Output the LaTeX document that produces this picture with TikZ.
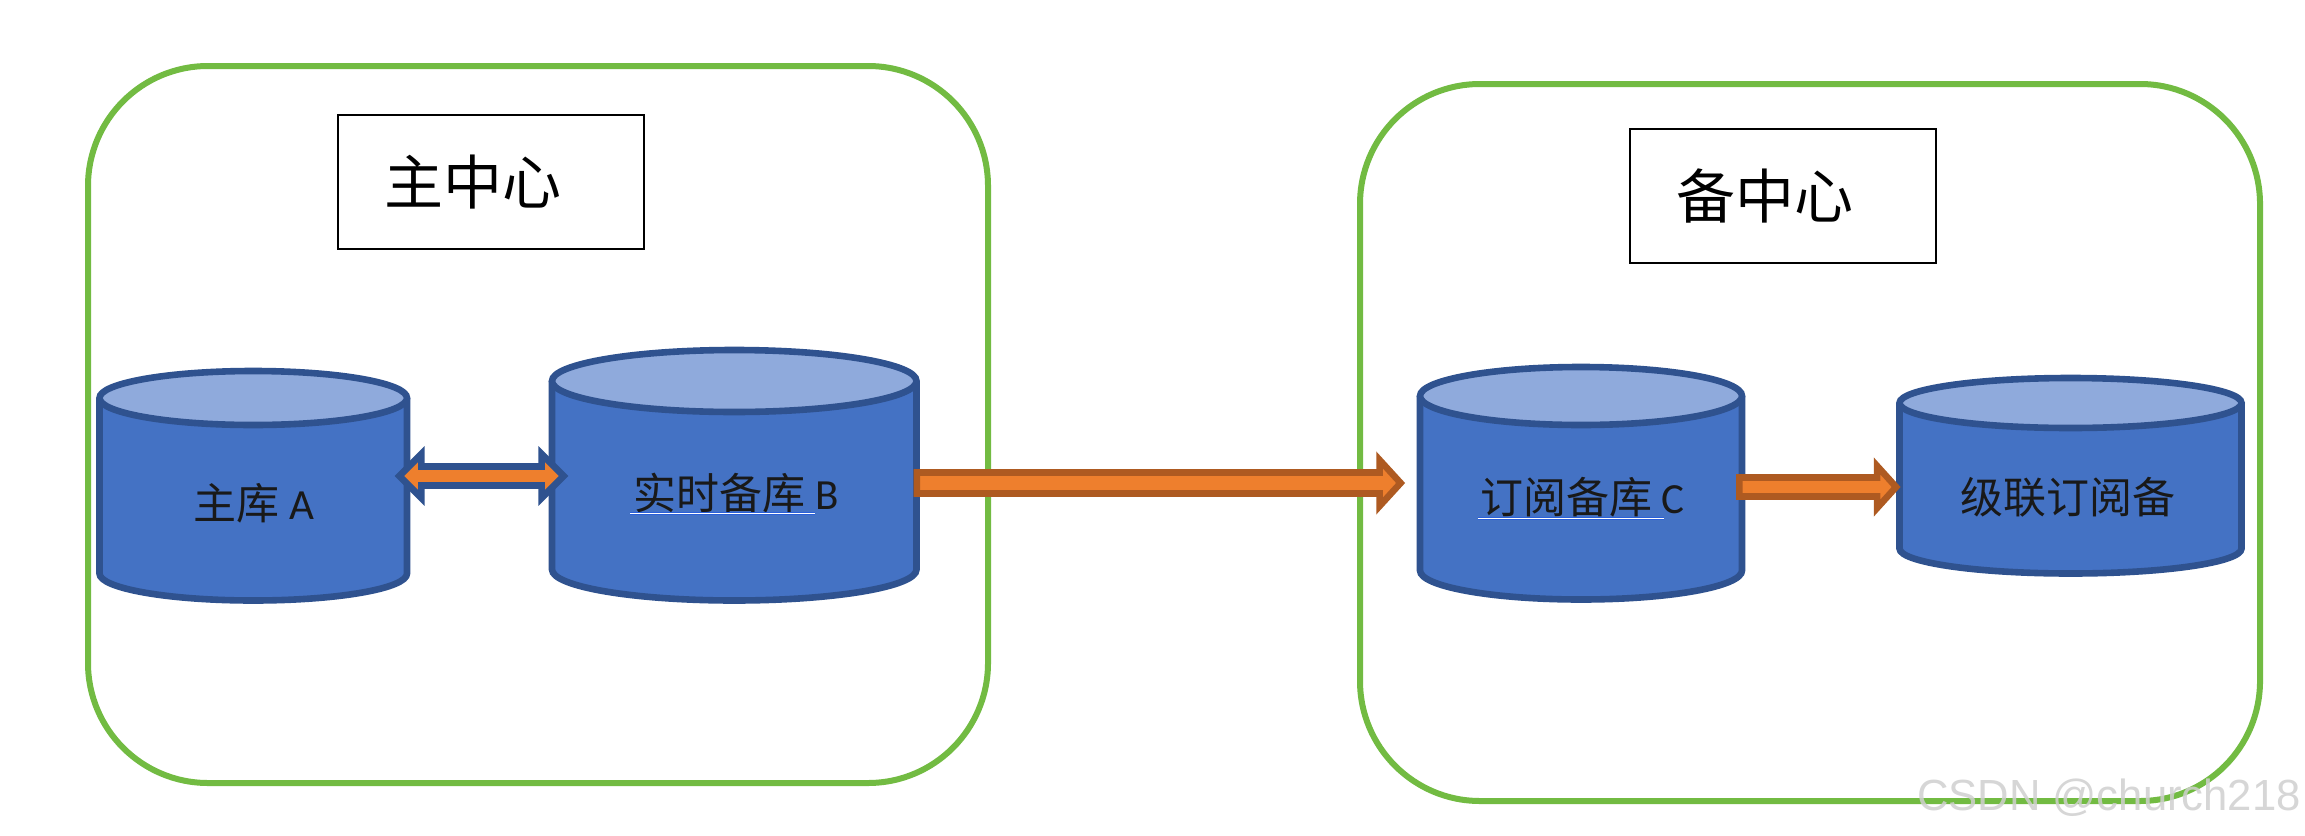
\documentclass[tikz,border=0pt]{standalone}
\usepackage{fontspec}
\usetikzlibrary{calc}
\setmainfont{Carlito}
\newfontfamily\cjk{Noto Sans CJK SC}
\newfontfamily\wm{Liberation Sans}
\definecolor{gframe}{HTML}{72BB42}
\definecolor{dbfill}{HTML}{4472C4}
\definecolor{dbedge}{HTML}{2F528F}
\definecolor{dbtop}{HTML}{8FAADC}
\definecolor{orfill}{HTML}{EE7F2D}
\definecolor{oredge}{HTML}{AE5A21}
\definecolor{ulblue}{HTML}{2A5FD8}
\tikzset{
  center box/.style={draw=gframe,line width=3pt,rounded corners=60pt,inner sep=0pt},
  title box/.style={draw=black,line width=1.4pt,inner sep=0pt,font=\cjk\fontsize{29.5pt}{32pt}\selectfont},
  db label/.style={inner sep=0pt,text=black!90,font=\fontsize{21.5pt}{24pt}\selectfont},
  db line/.style={draw=dbedge,line width=3.3pt},
  orange arrow/.style={draw=oredge,fill=orfill,line width=3.3pt,miter limit=10},
  blue arrow/.style={draw=dbedge,fill=orfill,line width=3.3pt,miter limit=10},
  ul/.style={draw=ulblue,line width=0.5pt,double distance=0.5pt},
  mark text/.style={inner sep=0pt,text=black!19,opacity=.85,font=\wm\fontsize{21.8pt}{24pt}\selectfont}
}
% name, x1, x2, ytop, ybottom, ry, ycentre of top ellipse
\newcommand{\dbcyl}[7]{%
  \fill[dbfill] (#2,#7) -- (#2,#5-#6) arc[start angle=180,end angle=360,x radius={(#3-#2)/2*0.5pt},y radius=#6*0.5pt] -- (#3,#7) -- cycle;
  \draw[db line] (#2,#7) -- (#2,#5-#6) arc[start angle=180,end angle=360,x radius={(#3-#2)/2*0.5pt},y radius=#6*0.5pt] -- (#3,#7);
  \draw[db line,fill=dbtop] ({(#2+#3)/2},#7) ellipse[x radius={(#3-#2)/2*0.5pt},y radius=#6*0.5pt];
  \node[inner sep=0pt,minimum width={(#3-#2)*0.5pt},minimum height={(#5-#4)*0.5pt}] (#1) at ({(#2+#3)/2},{(#4+#5)/2}) {};
}
% start, tip, half shaft, half head, head length (in pt)
\newcommand{\rightblock}[6]{%
  \draw[#1] let \p1=(#2),\p2=(#3) in
    (\x1,\y1+#4) -- (\x2-#6,\y1+#4) -- (\x2-#6,\y1+#5) -- (\x2,\y1) -- (\x2-#6,\y1-#5) -- (\x2-#6,\y1-#4) -- (\x1,\y1-#4) -- cycle;
}
\newcommand{\bothblock}[6]{%
  \draw[#1] let \p1=(#2),\p2=(#3) in
    (\x1,\y1) -- (\x1+#6,\y1+#5) -- (\x1+#6,\y1+#4) -- (\x2-#6,\y1+#4) -- (\x2-#6,\y1+#5) -- (\x2,\y1) -- (\x2-#6,\y1-#5) -- (\x2-#6,\y1-#4) -- (\x1+#6,\y1-#4) -- (\x1+#6,\y1-#5) -- cycle;
}
\begin{document}
\begin{tikzpicture}[x=0.5pt,y=-0.5pt]
\useasboundingbox (0,0) rectangle (2305,835);
\fill[white] (0,0) rectangle (2305,835);

\node[center box,minimum width=450pt,minimum height=358.5pt] (main) at (538,424.5) {};
\node[center box,minimum width=450pt,minimum height=358.5pt] (standby) at (1810,442.5) {};

\node[title box,minimum width=153pt,minimum height=67pt] (mainT) at (491,182) {主中心\hspace*{18pt}};
\node[title box,minimum width=153pt,minimum height=67pt] (standbyT) at (1783,196) {备中心\hspace*{18pt}};

\dbcyl{A}{99.5}{407}{371}{600.5}{27}{398}
\dbcyl{B}{552}{916.5}{350}{600.5}{31}{381}
\dbcyl{C}{1420}{1742}{368}{599.5}{29}{396}
\dbcyl{D}{1899.5}{2241.5}{379}{573.5}{25}{403}

\coordinate (abL) at ($(A.east |- 0,476)+(-8,0)$);
\coordinate (abR) at ($(B.west |- 0,476)+(12,0)$);
\bothblock{blue arrow}{abL}{abR}{4.75pt}{11pt}{11pt}

\coordinate (bcS) at (B.east |- 0,483);
\coordinate (bcT) at ($(C.west |- 0,483)+(-19,0)$);
\rightblock{orange arrow}{bcS}{bcT}{5.25pt}{11.5pt}{10.5pt}

\coordinate (cdS) at ($(C.east |- 0,487)+(-3,0)$);
\coordinate (cdT) at ($(D.west |- 0,487)+(-3,0)$);
\rightblock{orange arrow}{cdS}{cdT}{4.75pt}{10.5pt}{9.5pt}

\node[db label] (tA) at (254,503) {{\cjk 主库} A};
\node[db label] (tB) at (736,493) {{\cjk 实时备库} B};
\node[db label] (tC) at (1582.5,497) {{\cjk 订阅备库} C};
\node[db label] (tD) at (2067.5,497) {{\cjk 级联订阅备}};

\coordinate (u1a) at (630,513);
\coordinate (u1b) at (815,513);
\coordinate (u2a) at (1478,518);
\coordinate (u2b) at (1664,518);
\draw[ul] (u1a) -- (u1b);
\draw[ul] (u2a) -- (u2b);

\node[mark text,anchor=east] (wm) at (2301,798) {CSDN @church218};
\end{tikzpicture}
\end{document}
